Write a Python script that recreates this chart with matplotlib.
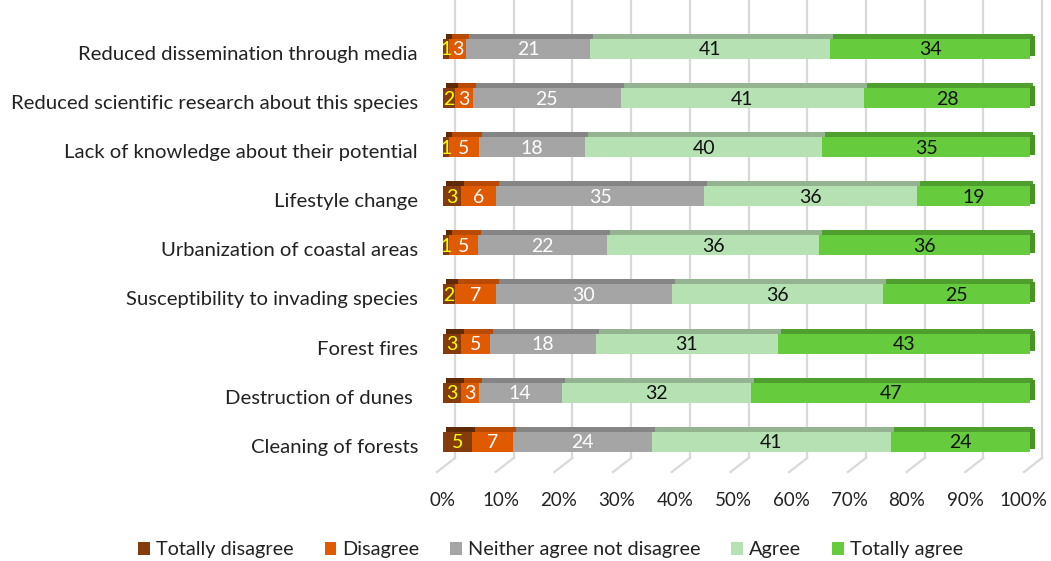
import matplotlib
matplotlib.use("Agg")
import matplotlib.pyplot as plt
from matplotlib.patches import Patch
from matplotlib.transforms import ScaledTranslation
import numpy as np

categories = [
    "Reduced dissemination through media",
    "Reduced scientific research about this species",
    "Lack of knowledge about their potential",
    "Lifestyle change",
    "Urbanization of coastal areas",
    "Susceptibility to invading species",
    "Forest fires",
    "Destruction of dunes ",
    "Cleaning of forests",
]
series_names = ["Totally disagree", "Disagree", "Neither agree not disagree", "Agree", "Totally agree"]
totally_disagree = [1, 2, 1, 3, 1, 2, 3, 3, 5]
disagree = [3, 3, 5, 6, 5, 7, 5, 3, 7]
neither = [21, 25, 18, 35, 22, 30, 18, 14, 24]
agree = [41, 41, 40, 36, 36, 36, 31, 32, 41]
totally_agree = [34, 28, 35, 19, 36, 25, 43, 47, 24]
xtick_values = [0, 10, 20, 30, 40, 50, 60, 70, 80, 90, 100]

face_colors = ["#843C0C", "#E05A00", "#A5A5A5", "#B6E1B3", "#66CC3E"]
top_colors = ["#5E2A08", "#B84A04", "#858585", "#93B391", "#4F9F2E"]
text_colors = ["#FFFF00", "#FFFFFF", "#FFFFFF", "#111111", "#111111"]
font = "Lato"
plt.rcParams['font.family'] = [font, 'DejaVu Sans']

W, H = 1051, 561
fig = plt.figure(figsize=(W / 100, H / 100), dpi=100)
ax_left, ax_right = 443, 1030
ax_top, ax_bot = 0, 470
ax = fig.add_axes([ax_left / W, 1 - ax_bot / H, (ax_right - ax_left) / W, (ax_bot - ax_top) / H])

pxx = (ax_right - ax_left) / 100.0   # px per x unit
row0, rowstep = 49, 49.1
pxy = rowstep
n = len(categories)
ax.set_xlim(0, 100)
ax.set_ylim(n - 1 + (ax_bot - (row0 + rowstep * (n - 1))) / pxy, -(row0 - ax_top) / pxy)

data = np.array([totally_disagree, disagree, neither, agree, totally_agree], dtype=float)
totals = data.sum(axis=0)
pct = data / totals * 100
y = np.arange(n)

face_h = 20 / pxy
top_h = 5 / pxy
shift = 5 / pxx

# back-wall gridlines and floor lines
back = 12 / pxx
y_back_bottom = n - 1 + (458 - (row0 + rowstep * (n - 1))) / pxy
y_front_bottom = n - 1 + (472 - (row0 + rowstep * (n - 1))) / pxy
for v in xtick_values:
    ax.plot([v + back, v + back], [ax.get_ylim()[1], y_back_bottom], color="#D9D9D9", lw=1.6, zorder=0, clip_on=False)
    ax.plot([v + back, v - 6 / pxx], [y_back_bottom, y_front_bottom], color="#D9D9D9", lw=1.6, zorder=0, clip_on=False)

left = np.zeros(n)
for k in range(5):
    w = pct[k]
    # top face
    ax.barh(y - face_h / 2 - top_h / 2, w, left=left + shift * 0.6, height=top_h,
            color=top_colors[k], edgecolor="none", zorder=2, clip_on=False)
    # front face
    ax.barh(y, w, left=left, height=face_h, color=face_colors[k], edgecolor="none", zorder=3, clip_on=False)
    for i in range(n):
        ax.text(left[i] + w[i] / 2, y[i] + 0.02, f"{int(data[k, i])}", ha="center", va="center",
                color=text_colors[k], fontsize=14, zorder=5)
    left = left + w

# right end cap
ax.barh(y - top_h / 2, np.full(n, shift), left=left, height=face_h, color="#4A9426",
        edgecolor="none", zorder=2, clip_on=False)

ax.set_xticks(xtick_values)
ax.set_xticklabels([f"{v}%" for v in xtick_values], fontsize=13.5, color="#222222")
ax.set_yticks(y + 4 / pxy)
ax.set_yticklabels(categories, fontsize=14.6, color="#222222")
ax.tick_params(axis="x", length=0, pad=16)
ax.tick_params(axis="y", length=0, pad=18)
# floor perspective: front tick labels converge slightly to the left
for v, lab in zip(xtick_values, ax.get_xticklabels()):
    lab.set_transform(lab.get_transform() + ScaledTranslation(-(v / 100) * 7 / 100, 0, fig.dpi_scale_trans))
for s in ax.spines.values():
    s.set_visible(False)
ax.set_facecolor("none")

handles = [Patch(facecolor=c, edgecolor="none") for c in face_colors]
fig.legend(handles, series_names, ncol=5, loc="center", bbox_to_anchor=(0.524, 0.02),
           frameon=False, handlelength=0.6, handleheight=0.6, columnspacing=1.55,
           handletextpad=0.3, fontsize=14.3, labelcolor="#222222")

fig.savefig("out.png", dpi=100)
